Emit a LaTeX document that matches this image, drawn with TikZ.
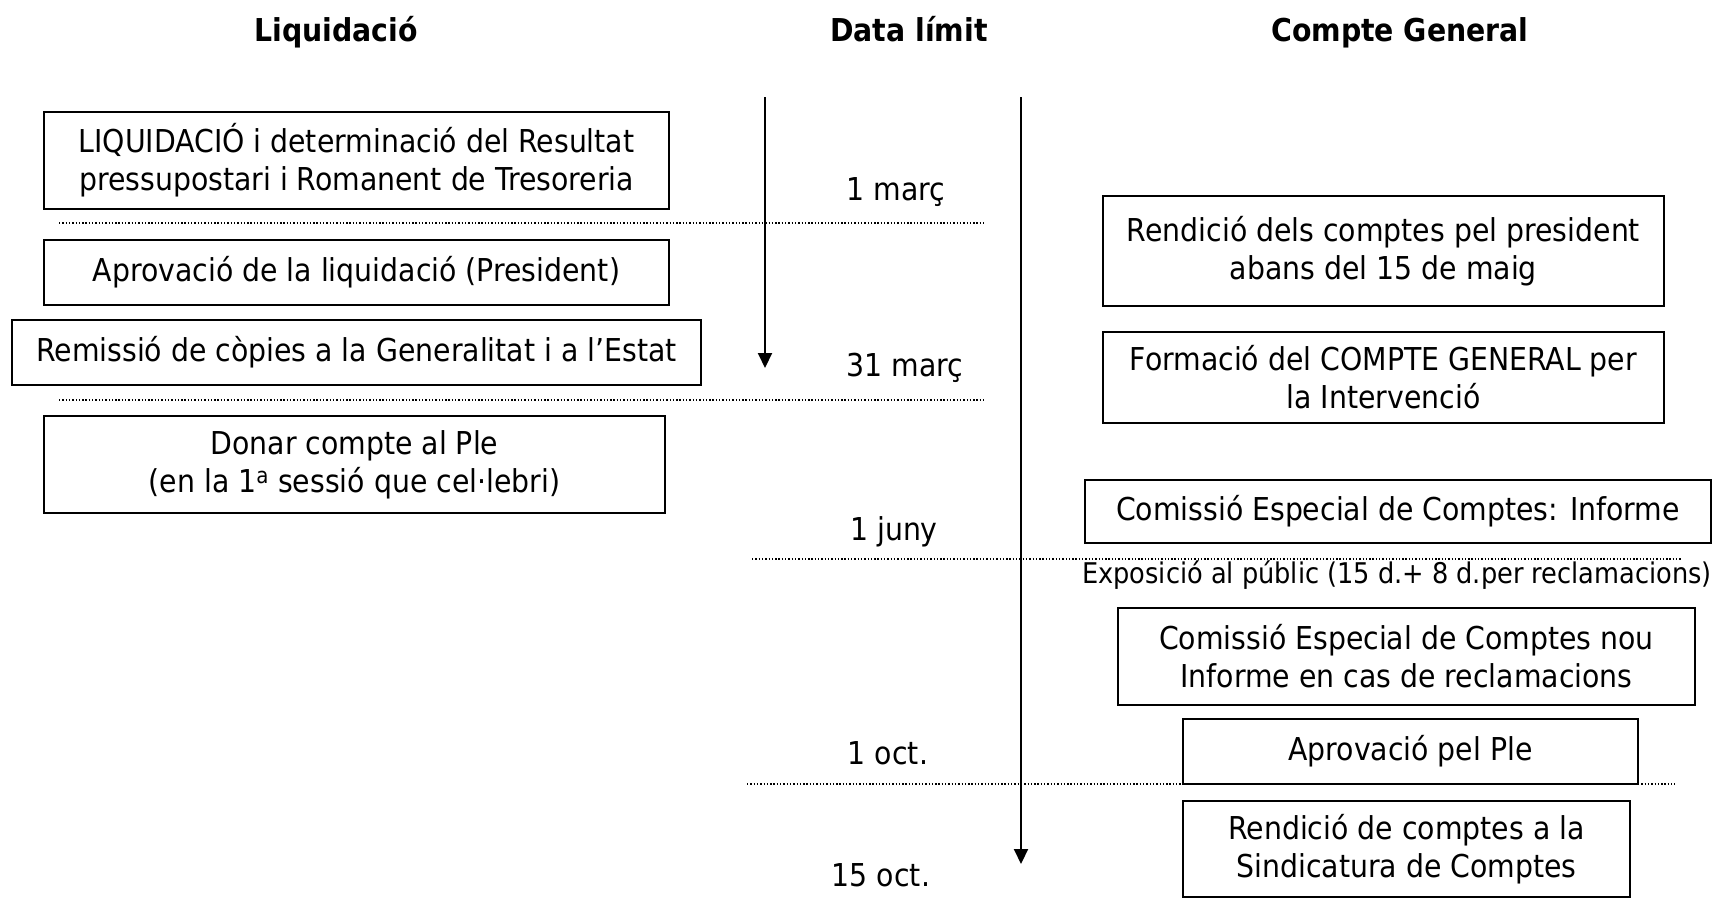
\documentclass[tikz,border=0pt]{standalone}
\usepackage{fontspec}
\setmainfont{DejaVu Sans Condensed}[BoldFont={DejaVu Sans Condensed Bold}]
\usetikzlibrary{arrows.meta}
\begin{document}
\begin{tikzpicture}[x=1bp,y=-1bp,
  boxtext/.style={font=\fontsize{31.5bp}{38bp}\selectfont},
  stepbox/.style={draw, line width=2bp, inner sep=0pt, align=center, boxtext},
  header/.style={font=\fontsize{31.5bp}{36bp}\selectfont\bfseries, inner sep=0pt, anchor=base},
  datelbl/.style={boxtext, inner sep=0pt},
  smalltext/.style={font=\fontsize{28.5bp}{32bp}\selectfont, inner sep=0pt},
  sepline/.style={line width=1.5bp, dash pattern=on 1.4bp off 1.9bp},
  timeline/.style={line width=2bp, -{Triangle[width=14bp,length=15bp]}}]
\useasboundingbox (0,0) rectangle (1715,908);
% headers
\node[header] (h1) at (336,41) {Liquidació};
\node[header] (h2) at (909,41) {Data límit};
\node[header] (h3) at (1400,41) {Compte General};
% left boxes
\node[stepbox, minimum width=625bp, minimum height=97bp] (b1) at (356.5,160.5) {LIQUIDACIÓ i determinació del Resultat\\pressupostari i Romanent de Tresoreria};
\node[stepbox, minimum width=625bp, minimum height=65bp] (b2) at (356.5,272.5) {Aprovació de la liquidació (President)};
\node[stepbox, minimum width=689bp, minimum height=65bp] (b3) at (356.5,352.5) {Remissió de còpies a la Generalitat i a l’Estat};
\node[stepbox, minimum width=621bp, minimum height=97bp] (b4) at (354.5,464.5) {Donar compte al Ple\\(en la 1\textsuperscript{a} sessió que cel·lebri)};
% right boxes
\node[stepbox, minimum width=561bp, minimum height=110bp] (r1) at (1383.5,251) {Rendició dels comptes pel president\\abans del 15 de maig};
\node[stepbox, minimum width=561bp, minimum height=91bp] (r2) at (1383.5,377.5) {Formació del COMPTE GENERAL per\\la Intervenció};
\node[stepbox, minimum width=626bp, minimum height=63bp] (r3) at (1398,511.5) {Comissió Especial de Comptes: Informe};
\node[smalltext] (expo) at (1397,575) {Exposició al públic (15 d.+ 8 d.per reclamacions)};
\node[stepbox, minimum width=577bp, minimum height=97bp] (r4) at (1406.5,656.5) {Comissió Especial de Comptes nou\\Informe en cas de reclamacions};
\node[stepbox, minimum width=455bp, minimum height=65bp] (r5) at (1410.5,751.5) {Aprovació pel Ple};
\node[stepbox, minimum width=447bp, minimum height=96bp] (r6) at (1406.5,849) {Rendició de comptes a la\\Sindicatura de Comptes};
% dates
\node[datelbl] (d1) at (896,192) {1 març};
\node[datelbl] (d2) at (905,368) {31 març};
\node[datelbl] (d3) at (894,532) {1 juny};
\node[datelbl] (d4) at (888,753) {1 oct.};
\node[datelbl] (d5) at (881,875) {15 oct.};
% timelines
\coordinate (ta) at (765,97);
\coordinate (tb) at (765,368);
\coordinate (tc) at (1021,97);
\coordinate (td) at (1021,864);
\draw[timeline] (ta) -- (tb);
\draw[timeline] (tc) -- (td);
% separators
\coordinate (s1a) at (59,223);   \coordinate (s1b) at (986,223);
\coordinate (s2a) at (59,400);   \coordinate (s2b) at (986,400);
\coordinate (s3a) at (752,559);  \coordinate (s3b) at (1682,559);
\coordinate (s4a) at (747,784);  \coordinate (s4b) at (1675,784);
\draw[sepline] (s1a) -- (s1b);
\draw[sepline] (s2a) -- (s2b);
\draw[sepline] (s3a) -- (s3b);
\draw[sepline] (s4a) -- (s4b);
\end{tikzpicture}
\end{document}
